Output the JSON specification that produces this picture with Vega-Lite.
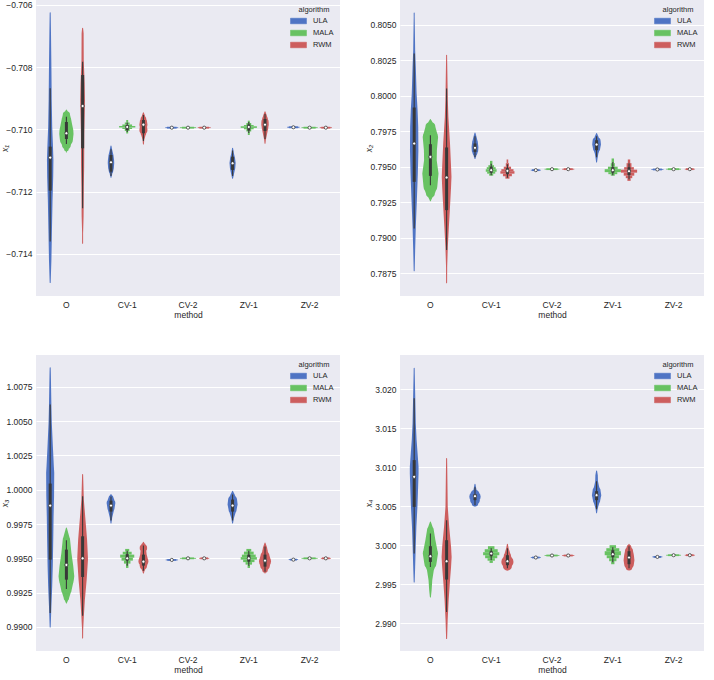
{
"$schema": "https://vega.github.io/schema/vega-lite/v6.json",
"padding": {"left": 0, "top": 0, "right": 0, "bottom": 0},
"background": "white",
"datasets": {
"trails": [
{"p":1,"m":"O","a":"ULA","v":-0.706249,"w":0},{"p":1,"m":"O","a":"ULA","v":-0.706913,"w":0.10},{"p":1,"m":"O","a":"ULA","v":-0.707983,"w":0.15},{"p":1,"m":"O","a":"ULA","v":-0.709053,"w":0.19},{"p":1,"m":"O","a":"ULA","v":-0.709909,"w":0.25},{"p":1,"m":"O","a":"ULA","v":-0.710444,"w":0.33},{"p":1,"m":"O","a":"ULA","v":-0.710979,"w":0.40},{"p":1,"m":"O","a":"ULA","v":-0.711514,"w":0.375},{"p":1,"m":"O","a":"ULA","v":-0.712263,"w":0.29},{"p":1,"m":"O","a":"ULA","v":-0.713333,"w":0.21},{"p":1,"m":"O","a":"ULA","v":-0.714190,"w":0.15},{"p":1,"m":"O","a":"ULA","v":-0.714917,"w":0},
{"p":1,"m":"O","a":"MALA","v":-0.709374,"w":0},{"p":1,"m":"O","a":"MALA","v":-0.709535,"w":0.45},{"p":1,"m":"O","a":"MALA","v":-0.709695,"w":0.6},{"p":1,"m":"O","a":"MALA","v":-0.709856,"w":0.72},{"p":1,"m":"O","a":"MALA","v":-0.710016,"w":0.85},{"p":1,"m":"O","a":"MALA","v":-0.710144,"w":0.88},{"p":1,"m":"O","a":"MALA","v":-0.710337,"w":0.8},{"p":1,"m":"O","a":"MALA","v":-0.710498,"w":0.55},{"p":1,"m":"O","a":"MALA","v":-0.710626,"w":0.3},{"p":1,"m":"O","a":"MALA","v":-0.710722,"w":0},
{"p":1,"m":"O","a":"RWM","v":-0.706751,"w":0},{"p":1,"m":"O","a":"RWM","v":-0.706912,"w":0.125},{"p":1,"m":"O","a":"RWM","v":-0.707769,"w":0.14},{"p":1,"m":"O","a":"RWM","v":-0.708517,"w":0.25},{"p":1,"m":"O","a":"RWM","v":-0.709053,"w":0.29},{"p":1,"m":"O","a":"RWM","v":-0.709374,"w":0.27},{"p":1,"m":"O","a":"RWM","v":-0.710122,"w":0.21},{"p":1,"m":"O","a":"RWM","v":-0.711194,"w":0.19},{"p":1,"m":"O","a":"RWM","v":-0.711836,"w":0.15},{"p":1,"m":"O","a":"RWM","v":-0.712799,"w":0.12},{"p":1,"m":"O","a":"RWM","v":-0.713332,"w":0.06},{"p":1,"m":"O","a":"RWM","v":-0.713653,"w":0},
{"p":1,"m":"CV-1","a":"ULA","v":-0.710530,"w":0},{"p":1,"m":"CV-1","a":"ULA","v":-0.710658,"w":0.15},{"p":1,"m":"CV-1","a":"ULA","v":-0.710819,"w":0.3},{"p":1,"m":"CV-1","a":"ULA","v":-0.710979,"w":0.38},{"p":1,"m":"CV-1","a":"ULA","v":-0.711075,"w":0.4},{"p":1,"m":"CV-1","a":"ULA","v":-0.711236,"w":0.35},{"p":1,"m":"CV-1","a":"ULA","v":-0.711364,"w":0.25},{"p":1,"m":"CV-1","a":"ULA","v":-0.711461,"w":0.12},{"p":1,"m":"CV-1","a":"ULA","v":-0.711535,"w":0},
{"p":1,"m":"CV-1","a":"RWM","v":-0.709461,"w":0},{"p":1,"m":"CV-1","a":"RWM","v":-0.709567,"w":0.2},{"p":1,"m":"CV-1","a":"RWM","v":-0.709663,"w":0.35},{"p":1,"m":"CV-1","a":"RWM","v":-0.709759,"w":0.45},{"p":1,"m":"CV-1","a":"RWM","v":-0.709846,"w":0.5},{"p":1,"m":"CV-1","a":"RWM","v":-0.709920,"w":0.45},{"p":1,"m":"CV-1","a":"RWM","v":-0.710016,"w":0.5},{"p":1,"m":"CV-1","a":"RWM","v":-0.710112,"w":0.35},{"p":1,"m":"CV-1","a":"RWM","v":-0.710241,"w":0.2},{"p":1,"m":"CV-1","a":"RWM","v":-0.710337,"w":0.1},{"p":1,"m":"CV-1","a":"RWM","v":-0.710465,"w":0},
{"p":1,"m":"ZV-1","a":"ULA","v":-0.710604,"w":0},{"p":1,"m":"ZV-1","a":"ULA","v":-0.710754,"w":0.15},{"p":1,"m":"ZV-1","a":"ULA","v":-0.710915,"w":0.3},{"p":1,"m":"ZV-1","a":"ULA","v":-0.711075,"w":0.38},{"p":1,"m":"ZV-1","a":"ULA","v":-0.711236,"w":0.33},{"p":1,"m":"ZV-1","a":"ULA","v":-0.711396,"w":0.2},{"p":1,"m":"ZV-1","a":"ULA","v":-0.711567,"w":0},
{"p":1,"m":"ZV-1","a":"RWM","v":-0.709429,"w":0},{"p":1,"m":"ZV-1","a":"RWM","v":-0.709535,"w":0.2},{"p":1,"m":"ZV-1","a":"RWM","v":-0.709663,"w":0.35},{"p":1,"m":"ZV-1","a":"RWM","v":-0.709759,"w":0.45},{"p":1,"m":"ZV-1","a":"RWM","v":-0.709846,"w":0.46},{"p":1,"m":"ZV-1","a":"RWM","v":-0.709952,"w":0.4},{"p":1,"m":"ZV-1","a":"RWM","v":-0.710080,"w":0.3},{"p":1,"m":"ZV-1","a":"RWM","v":-0.710209,"w":0.2},{"p":1,"m":"ZV-1","a":"RWM","v":-0.710337,"w":0.1},{"p":1,"m":"ZV-1","a":"RWM","v":-0.710443,"w":0},

{"p":2,"m":"O","a":"ULA","v":0.805845,"w":0},{"p":2,"m":"O","a":"ULA","v":0.805563,"w":0.06},{"p":2,"m":"O","a":"ULA","v":0.803218,"w":0.12},{"p":2,"m":"O","a":"ULA","v":0.802042,"w":0.2},{"p":2,"m":"O","a":"ULA","v":0.800169,"w":0.3},{"p":2,"m":"O","a":"ULA","v":0.798993,"w":0.42},{"p":2,"m":"O","a":"ULA","v":0.797817,"w":0.5},{"p":2,"m":"O","a":"ULA","v":0.796176,"w":0.52},{"p":2,"m":"O","a":"ULA","v":0.794535,"w":0.45},{"p":2,"m":"O","a":"ULA","v":0.792655,"w":0.33},{"p":2,"m":"O","a":"ULA","v":0.790775,"w":0.2},{"p":2,"m":"O","a":"ULA","v":0.789134,"w":0.12},{"p":2,"m":"O","a":"ULA","v":0.787676,"w":0},
{"p":2,"m":"O","a":"MALA","v":0.798338,"w":0},{"p":2,"m":"O","a":"MALA","v":0.797817,"w":0.62},{"p":2,"m":"O","a":"MALA","v":0.797113,"w":0.95},{"p":2,"m":"O","a":"MALA","v":0.796176,"w":0.8},{"p":2,"m":"O","a":"MALA","v":0.795472,"w":0.78},{"p":2,"m":"O","a":"MALA","v":0.794535,"w":1.0},{"p":2,"m":"O","a":"MALA","v":0.793592,"w":0.85},{"p":2,"m":"O","a":"MALA","v":0.793127,"w":0.55},{"p":2,"m":"O","a":"MALA","v":0.792796,"w":0.2},{"p":2,"m":"O","a":"MALA","v":0.792620,"w":0},
{"p":2,"m":"O","a":"RWM","v":0.802866,"w":0},{"p":2,"m":"O","a":"RWM","v":0.802746,"w":0.06},{"p":2,"m":"O","a":"RWM","v":0.799697,"w":0.15},{"p":2,"m":"O","a":"RWM","v":0.798521,"w":0.22},{"p":2,"m":"O","a":"RWM","v":0.796648,"w":0.42},{"p":2,"m":"O","a":"RWM","v":0.795,"w":0.55},{"p":2,"m":"O","a":"RWM","v":0.794296,"w":0.6},{"p":2,"m":"O","a":"RWM","v":0.793592,"w":0.55},{"p":2,"m":"O","a":"RWM","v":0.792183,"w":0.42},{"p":2,"m":"O","a":"RWM","v":0.790775,"w":0.28},{"p":2,"m":"O","a":"RWM","v":0.789366,"w":0.15},{"p":2,"m":"O","a":"RWM","v":0.787958,"w":0.07},{"p":2,"m":"O","a":"RWM","v":0.786831,"w":0},
{"p":2,"m":"CV-1","a":"ULA","v":0.797394,"w":0},{"p":2,"m":"CV-1","a":"ULA","v":0.797091,"w":0.2},{"p":2,"m":"CV-1","a":"ULA","v":0.796739,"w":0.35},{"p":2,"m":"CV-1","a":"ULA","v":0.796408,"w":0.42},{"p":2,"m":"CV-1","a":"ULA","v":0.796176,"w":0.4},{"p":2,"m":"CV-1","a":"ULA","v":0.795965,"w":0.3},{"p":2,"m":"CV-1","a":"ULA","v":0.795753,"w":0.15},{"p":2,"m":"CV-1","a":"ULA","v":0.795592,"w":0},
{"p":2,"m":"ZV-1","a":"ULA","v":0.797352,"w":0},{"p":2,"m":"ZV-1","a":"ULA","v":0.797091,"w":0.25},{"p":2,"m":"ZV-1","a":"ULA","v":0.796810,"w":0.5},{"p":2,"m":"ZV-1","a":"ULA","v":0.796577,"w":0.54},{"p":2,"m":"ZV-1","a":"ULA","v":0.796317,"w":0.45},{"p":2,"m":"ZV-1","a":"ULA","v":0.795944,"w":0.22},{"p":2,"m":"ZV-1","a":"ULA","v":0.795613,"w":0.12},{"p":2,"m":"ZV-1","a":"ULA","v":0.795352,"w":0},

{"p":3,"m":"O","a":"ULA","v":1.008878,"w":0},{"p":3,"m":"O","a":"ULA","v":1.008514,"w":0.08},{"p":3,"m":"O","a":"ULA","v":1.006079,"w":0.15},{"p":3,"m":"O","a":"ULA","v":1.004869,"w":0.2},{"p":3,"m":"O","a":"ULA","v":1.003164,"w":0.33},{"p":3,"m":"O","a":"ULA","v":1.001706,"w":0.45},{"p":3,"m":"O","a":"ULA","v":1.001225,"w":0.5},{"p":3,"m":"O","a":"ULA","v":0.999519,"w":0.48},{"p":3,"m":"O","a":"ULA","v":0.998061,"w":0.42},{"p":3,"m":"O","a":"ULA","v":0.996363,"w":0.38},{"p":3,"m":"O","a":"ULA","v":0.994417,"w":0.32},{"p":3,"m":"O","a":"ULA","v":0.992959,"w":0.25},{"p":3,"m":"O","a":"ULA","v":0.991501,"w":0.15},{"p":3,"m":"O","a":"ULA","v":0.990000,"w":0},
{"p":3,"m":"O","a":"MALA","v":0.997216,"w":0},{"p":3,"m":"O","a":"MALA","v":0.996363,"w":0.45},{"p":3,"m":"O","a":"MALA","v":0.995394,"w":0.62},{"p":3,"m":"O","a":"MALA","v":0.994417,"w":0.85},{"p":3,"m":"O","a":"MALA","v":0.993688,"w":0.97},{"p":3,"m":"O","a":"MALA","v":0.993447,"w":0.92},{"p":3,"m":"O","a":"MALA","v":0.992719,"w":0.65},{"p":3,"m":"O","a":"MALA","v":0.992114,"w":0.33},{"p":3,"m":"O","a":"MALA","v":0.991749,"w":0},
{"p":3,"m":"O","a":"RWM","v":1.001101,"w":0},{"p":3,"m":"O","a":"RWM","v":1.000736,"w":0.08},{"p":3,"m":"O","a":"RWM","v":0.999279,"w":0.15},{"p":3,"m":"O","a":"RWM","v":0.997821,"w":0.35},{"p":3,"m":"O","a":"RWM","v":0.996363,"w":0.55},{"p":3,"m":"O","a":"RWM","v":0.995146,"w":0.65},{"p":3,"m":"O","a":"RWM","v":0.994905,"w":0.66},{"p":3,"m":"O","a":"RWM","v":0.993447,"w":0.5},{"p":3,"m":"O","a":"RWM","v":0.991990,"w":0.28},{"p":3,"m":"O","a":"RWM","v":0.990772,"w":0.15},{"p":3,"m":"O","a":"RWM","v":0.989803,"w":0.07},{"p":3,"m":"O","a":"RWM","v":0.989198,"w":0},
{"p":3,"m":"CV-1","a":"ULA","v":0.999643,"w":0},{"p":3,"m":"CV-1","a":"ULA","v":0.999424,"w":0.3},{"p":3,"m":"CV-1","a":"ULA","v":0.999038,"w":0.54},{"p":3,"m":"CV-1","a":"ULA","v":0.998696,"w":0.45},{"p":3,"m":"CV-1","a":"ULA","v":0.998331,"w":0.3},{"p":3,"m":"CV-1","a":"ULA","v":0.997967,"w":0.15},{"p":3,"m":"CV-1","a":"ULA","v":0.997580,"w":0},
{"p":3,"m":"CV-1","a":"RWM","v":0.996166,"w":0},{"p":3,"m":"CV-1","a":"RWM","v":0.995926,"w":0.3},{"p":3,"m":"CV-1","a":"RWM","v":0.995758,"w":0.46},{"p":3,"m":"CV-1","a":"RWM","v":0.995561,"w":0.35},{"p":3,"m":"CV-1","a":"RWM","v":0.995270,"w":0.4},{"p":3,"m":"CV-1","a":"RWM","v":0.994781,"w":0.62},{"p":3,"m":"CV-1","a":"RWM","v":0.994468,"w":0.45},{"p":3,"m":"CV-1","a":"RWM","v":0.994176,"w":0.2},{"p":3,"m":"CV-1","a":"RWM","v":0.993936,"w":0},
{"p":3,"m":"ZV-1","a":"ULA","v":0.999884,"w":0},{"p":3,"m":"ZV-1","a":"ULA","v":0.999570,"w":0.3},{"p":3,"m":"ZV-1","a":"ULA","v":0.999279,"w":0.55},{"p":3,"m":"ZV-1","a":"ULA","v":0.998914,"w":0.62},{"p":3,"m":"ZV-1","a":"ULA","v":0.998550,"w":0.5},{"p":3,"m":"ZV-1","a":"ULA","v":0.998185,"w":0.3},{"p":3,"m":"ZV-1","a":"ULA","v":0.997894,"w":0.15},{"p":3,"m":"ZV-1","a":"ULA","v":0.997580,"w":0},
{"p":3,"m":"ZV-1","a":"RWM","v":0.996123,"w":0},{"p":3,"m":"ZV-1","a":"RWM","v":0.995780,"w":0.25},{"p":3,"m":"ZV-1","a":"RWM","v":0.995488,"w":0.35},{"p":3,"m":"ZV-1","a":"RWM","v":0.995197,"w":0.55},{"p":3,"m":"ZV-1","a":"RWM","v":0.994781,"w":0.75},{"p":3,"m":"ZV-1","a":"RWM","v":0.994468,"w":0.6},{"p":3,"m":"ZV-1","a":"RWM","v":0.994176,"w":0.35},{"p":3,"m":"ZV-1","a":"RWM","v":0.993936,"w":0},

{"p":4,"m":"O","a":"ULA","v":3.022655,"w":0},{"p":4,"m":"O","a":"ULA","v":3.022014,"w":0.07},{"p":4,"m":"O","a":"ULA","v":3.015603,"w":0.2},{"p":4,"m":"O","a":"ULA","v":3.013462,"w":0.3},{"p":4,"m":"O","a":"ULA","v":3.011757,"w":0.42},{"p":4,"m":"O","a":"ULA","v":3.010039,"w":0.54},{"p":4,"m":"O","a":"ULA","v":3.009193,"w":0.54},{"p":4,"m":"O","a":"ULA","v":3.006628,"w":0.46},{"p":4,"m":"O","a":"ULA","v":3.004910,"w":0.4},{"p":4,"m":"O","a":"ULA","v":3.002346,"w":0.27},{"p":4,"m":"O","a":"ULA","v":2.999782,"w":0.19},{"p":4,"m":"O","a":"ULA","v":2.997218,"w":0.12},{"p":4,"m":"O","a":"ULA","v":2.995295,"w":0},
{"p":4,"m":"O","a":"MALA","v":3.002987,"w":0},{"p":4,"m":"O","a":"MALA","v":3.001923,"w":0.42},{"p":4,"m":"O","a":"MALA","v":3.000641,"w":0.62},{"p":4,"m":"O","a":"MALA","v":2.998936,"w":0.94},{"p":4,"m":"O","a":"MALA","v":2.997654,"w":0.75},{"p":4,"m":"O","a":"MALA","v":2.996795,"w":0.42},{"p":4,"m":"O","a":"MALA","v":2.995513,"w":0.23},{"p":4,"m":"O","a":"MALA","v":2.994231,"w":0.15},{"p":4,"m":"O","a":"MALA","v":2.993372,"w":0},
{"p":4,"m":"O","a":"RWM","v":3.011116,"w":0},{"p":4,"m":"O","a":"RWM","v":3.010475,"w":0.07},{"p":4,"m":"O","a":"RWM","v":3.004910,"w":0.14},{"p":4,"m":"O","a":"RWM","v":3.002346,"w":0.32},{"p":4,"m":"O","a":"RWM","v":2.999782,"w":0.55},{"p":4,"m":"O","a":"RWM","v":2.998500,"w":0.62},{"p":4,"m":"O","a":"RWM","v":2.997218,"w":0.55},{"p":4,"m":"O","a":"RWM","v":2.995513,"w":0.42},{"p":4,"m":"O","a":"RWM","v":2.992948,"w":0.25},{"p":4,"m":"O","a":"RWM","v":2.990384,"w":0.13},{"p":4,"m":"O","a":"RWM","v":2.988038,"w":0},
{"p":4,"m":"CV-1","a":"ULA","v":3.007821,"w":0},{"p":4,"m":"CV-1","a":"ULA","v":3.007308,"w":0.15},{"p":4,"m":"CV-1","a":"ULA","v":3.006795,"w":0.25},{"p":4,"m":"CV-1","a":"ULA","v":3.006539,"w":0.55},{"p":4,"m":"CV-1","a":"ULA","v":3.006193,"w":0.7},{"p":4,"m":"CV-1","a":"ULA","v":3.005769,"w":0.6},{"p":4,"m":"CV-1","a":"ULA","v":3.005385,"w":0.4},{"p":4,"m":"CV-1","a":"ULA","v":3.005000,"w":0},
{"p":4,"m":"CV-1","a":"RWM","v":3.000128,"w":0},{"p":4,"m":"CV-1","a":"RWM","v":2.999615,"w":0.15},{"p":4,"m":"CV-1","a":"RWM","v":2.999103,"w":0.3},{"p":4,"m":"CV-1","a":"RWM","v":2.998590,"w":0.45},{"p":4,"m":"CV-1","a":"RWM","v":2.997859,"w":0.75},{"p":4,"m":"CV-1","a":"RWM","v":2.997308,"w":0.55},{"p":4,"m":"CV-1","a":"RWM","v":2.996885,"w":0},
{"p":4,"m":"ZV-1","a":"ULA","v":3.009488,"w":0},{"p":4,"m":"ZV-1","a":"ULA","v":3.008975,"w":0.15},{"p":4,"m":"ZV-1","a":"ULA","v":3.008205,"w":0.17},{"p":4,"m":"ZV-1","a":"ULA","v":3.007564,"w":0.3},{"p":4,"m":"ZV-1","a":"ULA","v":3.006923,"w":0.5},{"p":4,"m":"ZV-1","a":"ULA","v":3.006410,"w":0.58},{"p":4,"m":"ZV-1","a":"ULA","v":3.005769,"w":0.45},{"p":4,"m":"ZV-1","a":"ULA","v":3.005128,"w":0.25},{"p":4,"m":"ZV-1","a":"ULA","v":3.004616,"w":0.12},{"p":4,"m":"ZV-1","a":"ULA","v":3.004141,"w":0},
{"p":4,"m":"ZV-1","a":"RWM","v":3.000128,"w":0},{"p":4,"m":"ZV-1","a":"RWM","v":2.999744,"w":0.3},{"p":4,"m":"ZV-1","a":"RWM","v":2.999231,"w":0.5},{"p":4,"m":"ZV-1","a":"RWM","v":2.998718,"w":0.6},{"p":4,"m":"ZV-1","a":"RWM","v":2.998077,"w":0.67},{"p":4,"m":"ZV-1","a":"RWM","v":2.997564,"w":0.6},{"p":4,"m":"ZV-1","a":"RWM","v":2.997179,"w":0.4},{"p":4,"m":"ZV-1","a":"RWM","v":2.996885,"w":0}
],
"slices": [
{"p":1,"m":"CV-1","a":"MALA","v":-0.709775,"v2":-0.709695,"w":0.12},{"p":1,"m":"CV-1","a":"MALA","v":-0.709839,"v2":-0.709775,"w":0.3},{"p":1,"m":"CV-1","a":"MALA","v":-0.709888,"v2":-0.709839,"w":0.6},{"p":1,"m":"CV-1","a":"MALA","v":-0.709939,"v2":-0.709888,"w":1.0},{"p":1,"m":"CV-1","a":"MALA","v":-0.709984,"v2":-0.709939,"w":0.6},{"p":1,"m":"CV-1","a":"MALA","v":-0.710048,"v2":-0.709984,"w":0.3},{"p":1,"m":"CV-1","a":"MALA","v":-0.710128,"v2":-0.710048,"w":0.12},
{"p":1,"m":"ZV-1","a":"MALA","v":-0.709791,"v2":-0.709717,"w":0.12},{"p":1,"m":"ZV-1","a":"MALA","v":-0.709856,"v2":-0.709791,"w":0.3},{"p":1,"m":"ZV-1","a":"MALA","v":-0.709897,"v2":-0.709856,"w":0.6},{"p":1,"m":"ZV-1","a":"MALA","v":-0.709949,"v2":-0.709897,"w":1.0},{"p":1,"m":"ZV-1","a":"MALA","v":-0.709994,"v2":-0.709949,"w":0.6},{"p":1,"m":"ZV-1","a":"MALA","v":-0.710064,"v2":-0.709994,"w":0.3},{"p":1,"m":"ZV-1","a":"MALA","v":-0.710177,"v2":-0.710064,"w":0.12},
{"p":1,"m":"CV-2","a":"ULA","v":-0.709971,"v2":-0.709913,"w":0.6},{"p":1,"m":"CV-2","a":"ULA","v":-0.709955,"v2":-0.709929,"w":0.8},
{"p":1,"m":"CV-2","a":"MALA","v":-0.709971,"v2":-0.709913,"w":0.75},{"p":1,"m":"CV-2","a":"MALA","v":-0.709955,"v2":-0.709929,"w":1.0},
{"p":1,"m":"CV-2","a":"RWM","v":-0.709971,"v2":-0.709913,"w":0.6},{"p":1,"m":"CV-2","a":"RWM","v":-0.709955,"v2":-0.709929,"w":0.8},
{"p":1,"m":"ZV-2","a":"ULA","v":-0.709958,"v2":-0.709900,"w":0.56},{"p":1,"m":"ZV-2","a":"ULA","v":-0.709942,"v2":-0.709916,"w":0.75},
{"p":1,"m":"ZV-2","a":"MALA","v":-0.709971,"v2":-0.709913,"w":0.75},{"p":1,"m":"ZV-2","a":"MALA","v":-0.709955,"v2":-0.709929,"w":1.0},
{"p":1,"m":"ZV-2","a":"RWM","v":-0.709971,"v2":-0.709913,"w":0.56},{"p":1,"m":"ZV-2","a":"RWM","v":-0.709955,"v2":-0.709929,"w":0.75},

{"p":2,"m":"CV-1","a":"MALA","v":0.795120,"v2":0.795423,"w":0.15},{"p":2,"m":"CV-1","a":"MALA","v":0.794979,"v2":0.795120,"w":0.35},{"p":2,"m":"CV-1","a":"MALA","v":0.794838,"v2":0.794979,"w":0.55},{"p":2,"m":"CV-1","a":"MALA","v":0.794662,"v2":0.794838,"w":0.67},{"p":2,"m":"CV-1","a":"MALA","v":0.794521,"v2":0.794662,"w":0.5},{"p":2,"m":"CV-1","a":"MALA","v":0.794380,"v2":0.794521,"w":0.25},
{"p":2,"m":"CV-1","a":"RWM","v":0.795261,"v2":0.795521,"w":0.1},{"p":2,"m":"CV-1","a":"RWM","v":0.795014,"v2":0.795261,"w":0.2},{"p":2,"m":"CV-1","a":"RWM","v":0.794838,"v2":0.795014,"w":0.45},{"p":2,"m":"CV-1","a":"RWM","v":0.794697,"v2":0.794838,"w":0.75},{"p":2,"m":"CV-1","a":"RWM","v":0.794521,"v2":0.794697,"w":0.87},{"p":2,"m":"CV-1","a":"RWM","v":0.794345,"v2":0.794521,"w":0.55},{"p":2,"m":"CV-1","a":"RWM","v":0.794169,"v2":0.794345,"w":0.25},
{"p":2,"m":"ZV-1","a":"MALA","v":0.795261,"v2":0.795592,"w":0.15},{"p":2,"m":"ZV-1","a":"MALA","v":0.795014,"v2":0.795261,"w":0.25},{"p":2,"m":"ZV-1","a":"MALA","v":0.794838,"v2":0.795014,"w":0.6},{"p":2,"m":"ZV-1","a":"MALA","v":0.794627,"v2":0.794838,"w":1.0},{"p":2,"m":"ZV-1","a":"MALA","v":0.794486,"v2":0.794627,"w":0.55},{"p":2,"m":"ZV-1","a":"MALA","v":0.794380,"v2":0.794486,"w":0.25},
{"p":2,"m":"ZV-1","a":"RWM","v":0.795261,"v2":0.795521,"w":0.15},{"p":2,"m":"ZV-1","a":"RWM","v":0.794979,"v2":0.795261,"w":0.3},{"p":2,"m":"ZV-1","a":"RWM","v":0.794803,"v2":0.794979,"w":0.6},{"p":2,"m":"ZV-1","a":"RWM","v":0.794592,"v2":0.794803,"w":1.0},{"p":2,"m":"ZV-1","a":"RWM","v":0.794380,"v2":0.794592,"w":0.65},{"p":2,"m":"ZV-1","a":"RWM","v":0.794204,"v2":0.794380,"w":0.4},{"p":2,"m":"ZV-1","a":"RWM","v":0.794014,"v2":0.794204,"w":0.2},
{"p":2,"m":"CV-2","a":"ULA","v":0.794705,"v2":0.794831,"w":0.47},{"p":2,"m":"CV-2","a":"ULA","v":0.794740,"v2":0.794796,"w":0.62},
{"p":2,"m":"CV-2","a":"MALA","v":0.794775,"v2":0.794901,"w":0.7},{"p":2,"m":"CV-2","a":"MALA","v":0.794810,"v2":0.794866,"w":0.92},
{"p":2,"m":"CV-2","a":"RWM","v":0.794775,"v2":0.794901,"w":0.56},{"p":2,"m":"CV-2","a":"RWM","v":0.794810,"v2":0.794866,"w":0.75},
{"p":2,"m":"ZV-2","a":"ULA","v":0.794754,"v2":0.794880,"w":0.56},{"p":2,"m":"ZV-2","a":"ULA","v":0.794789,"v2":0.794845,"w":0.75},
{"p":2,"m":"ZV-2","a":"MALA","v":0.794775,"v2":0.794901,"w":0.7},{"p":2,"m":"ZV-2","a":"MALA","v":0.794810,"v2":0.794866,"w":0.92},
{"p":2,"m":"ZV-2","a":"RWM","v":0.794775,"v2":0.794901,"w":0.47},{"p":2,"m":"ZV-2","a":"RWM","v":0.794810,"v2":0.794866,"w":0.62},

{"p":3,"m":"CV-1","a":"MALA","v":0.995488,"v2":0.995685,"w":0.25},{"p":3,"m":"CV-1","a":"MALA","v":0.995270,"v2":0.995488,"w":0.55},{"p":3,"m":"CV-1","a":"MALA","v":0.995051,"v2":0.995270,"w":0.87},{"p":3,"m":"CV-1","a":"MALA","v":0.994832,"v2":0.995051,"w":0.7},{"p":3,"m":"CV-1","a":"MALA","v":0.994614,"v2":0.994832,"w":0.4},{"p":3,"m":"CV-1","a":"MALA","v":0.994300,"v2":0.994614,"w":0.15},
{"p":3,"m":"ZV-1","a":"MALA","v":0.995488,"v2":0.995685,"w":0.3},{"p":3,"m":"ZV-1","a":"MALA","v":0.995270,"v2":0.995488,"w":0.6},{"p":3,"m":"ZV-1","a":"MALA","v":0.995087,"v2":0.995270,"w":0.85},{"p":3,"m":"ZV-1","a":"MALA","v":0.994905,"v2":0.995087,"w":1.0},{"p":3,"m":"ZV-1","a":"MALA","v":0.994723,"v2":0.994905,"w":0.7},{"p":3,"m":"ZV-1","a":"MALA","v":0.994541,"v2":0.994723,"w":0.4},{"p":3,"m":"ZV-1","a":"MALA","v":0.994300,"v2":0.994541,"w":0.15},
{"p":3,"m":"CV-2","a":"ULA","v":0.994817,"v2":0.994949,"w":0.56},{"p":3,"m":"CV-2","a":"ULA","v":0.994854,"v2":0.994912,"w":0.75},
{"p":3,"m":"CV-2","a":"MALA","v":0.994934,"v2":0.995066,"w":0.75},{"p":3,"m":"CV-2","a":"MALA","v":0.994971,"v2":0.995029,"w":1.0},
{"p":3,"m":"CV-2","a":"RWM","v":0.994934,"v2":0.995066,"w":0.47},{"p":3,"m":"CV-2","a":"RWM","v":0.994971,"v2":0.995029,"w":0.62},
{"p":3,"m":"ZV-2","a":"ULA","v":0.994839,"v2":0.994971,"w":0.44},{"p":3,"m":"ZV-2","a":"ULA","v":0.994876,"v2":0.994934,"w":0.58},
{"p":3,"m":"ZV-2","a":"MALA","v":0.994934,"v2":0.995066,"w":0.75},{"p":3,"m":"ZV-2","a":"MALA","v":0.994971,"v2":0.995029,"w":1.0},
{"p":3,"m":"ZV-2","a":"RWM","v":0.994934,"v2":0.995066,"w":0.47},{"p":3,"m":"ZV-2","a":"RWM","v":0.994971,"v2":0.995029,"w":0.62},

{"p":4,"m":"CV-1","a":"MALA","v":2.999487,"v2":2.999872,"w":0.4},{"p":4,"m":"CV-1","a":"MALA","v":2.999103,"v2":2.999487,"w":0.8},{"p":4,"m":"CV-1","a":"MALA","v":2.998718,"v2":2.999103,"w":1.0},{"p":4,"m":"CV-1","a":"MALA","v":2.998333,"v2":2.998718,"w":0.75},{"p":4,"m":"CV-1","a":"MALA","v":2.998013,"v2":2.998333,"w":0.45},{"p":4,"m":"CV-1","a":"MALA","v":2.997731,"v2":2.998013,"w":0.2},
{"p":4,"m":"ZV-1","a":"MALA","v":2.999615,"v2":3.000000,"w":0.4},{"p":4,"m":"ZV-1","a":"MALA","v":2.999231,"v2":2.999615,"w":0.8},{"p":4,"m":"ZV-1","a":"MALA","v":2.998718,"v2":2.999231,"w":1.0},{"p":4,"m":"ZV-1","a":"MALA","v":2.998333,"v2":2.998718,"w":0.75},{"p":4,"m":"ZV-1","a":"MALA","v":2.997949,"v2":2.998333,"w":0.45},{"p":4,"m":"ZV-1","a":"MALA","v":2.997564,"v2":2.997949,"w":0.2},
{"p":4,"m":"CV-2","a":"ULA","v":2.998308,"v2":2.998538,"w":0.47},{"p":4,"m":"CV-2","a":"ULA","v":2.998372,"v2":2.998474,"w":0.62},
{"p":4,"m":"CV-2","a":"MALA","v":2.998564,"v2":2.998794,"w":0.7},{"p":4,"m":"CV-2","a":"MALA","v":2.998628,"v2":2.998730,"w":0.92},
{"p":4,"m":"CV-2","a":"RWM","v":2.998564,"v2":2.998794,"w":0.56},{"p":4,"m":"CV-2","a":"RWM","v":2.998628,"v2":2.998730,"w":0.75},
{"p":4,"m":"ZV-2","a":"ULA","v":2.998385,"v2":2.998615,"w":0.47},{"p":4,"m":"ZV-2","a":"ULA","v":2.998449,"v2":2.998551,"w":0.62},
{"p":4,"m":"ZV-2","a":"MALA","v":2.998603,"v2":2.998833,"w":0.7},{"p":4,"m":"ZV-2","a":"MALA","v":2.998667,"v2":2.998769,"w":0.92},
{"p":4,"m":"ZV-2","a":"RWM","v":2.998603,"v2":2.998833,"w":0.47},{"p":4,"m":"ZV-2","a":"RWM","v":2.998667,"v2":2.998769,"w":0.62}
],
"boxes": [
{"p":1,"m":"O","a":"ULA","k":"wh","v":-0.713601,"v2":-0.708678},{"p":1,"m":"O","a":"ULA","k":"iqr","v":-0.711964,"v2":-0.710551},
{"p":1,"m":"O","a":"MALA","k":"wh","v":-0.710465,"v2":-0.709589},{"p":1,"m":"O","a":"MALA","k":"iqr","v":-0.710305,"v2":-0.709759},
{"p":1,"m":"O","a":"RWM","k":"wh","v":-0.712530,"v2":-0.707823},{"p":1,"m":"O","a":"RWM","k":"iqr","v":-0.710604,"v2":-0.708250},
{"p":1,"m":"CV-1","a":"ULA","k":"wh","v":-0.711493,"v2":-0.710636},{"p":1,"m":"CV-1","a":"ULA","k":"iqr","v":-0.711355,"v2":-0.710819},
{"p":1,"m":"CV-1","a":"MALA","k":"wh","v":-0.710080,"v2":-0.709775},{"p":1,"m":"CV-1","a":"MALA","k":"iqr","v":-0.710016,"v2":-0.709856},
{"p":1,"m":"CV-1","a":"RWM","k":"wh","v":-0.710369,"v2":-0.709535},{"p":1,"m":"CV-1","a":"RWM","k":"iqr","v":-0.710122,"v2":-0.709695},
{"p":1,"m":"ZV-1","a":"ULA","k":"wh","v":-0.711493,"v2":-0.710674},{"p":1,"m":"ZV-1","a":"ULA","k":"iqr","v":-0.711300,"v2":-0.710873},
{"p":1,"m":"ZV-1","a":"MALA","k":"wh","v":-0.710112,"v2":-0.709759},{"p":1,"m":"ZV-1","a":"MALA","k":"iqr","v":-0.710032,"v2":-0.709839},
{"p":1,"m":"ZV-1","a":"RWM","k":"wh","v":-0.710305,"v2":-0.709502},{"p":1,"m":"ZV-1","a":"RWM","k":"iqr","v":-0.710048,"v2":-0.709663},
{"p":2,"m":"O","a":"ULA","k":"wh","v":0.790662,"v2":0.802986},{"p":2,"m":"O","a":"ULA","k":"iqr","v":0.793944,"v2":0.799183},
{"p":2,"m":"O","a":"MALA","k":"wh","v":0.793711,"v2":0.797232},{"p":2,"m":"O","a":"MALA","k":"iqr","v":0.794366,"v2":0.796599},
{"p":2,"m":"O","a":"RWM","k":"wh","v":0.789134,"v2":0.800521},{"p":2,"m":"O","a":"RWM","k":"iqr","v":0.791951,"v2":0.796366},
{"p":2,"m":"CV-1","a":"ULA","k":"wh","v":0.795683,"v2":0.797162},{"p":2,"m":"CV-1","a":"ULA","k":"iqr","v":0.796056,"v2":0.796648},
{"p":2,"m":"CV-1","a":"MALA","k":"wh","v":0.794416,"v2":0.795225},{"p":2,"m":"CV-1","a":"MALA","k":"iqr","v":0.794592,"v2":0.795014},
{"p":2,"m":"CV-1","a":"RWM","k":"wh","v":0.794239,"v2":0.795190},{"p":2,"m":"CV-1","a":"RWM","k":"iqr","v":0.794486,"v2":0.794908},
{"p":2,"m":"ZV-1","a":"ULA","k":"wh","v":0.795683,"v2":0.797162},{"p":2,"m":"ZV-1","a":"ULA","k":"iqr","v":0.796176,"v2":0.796880},
{"p":2,"m":"ZV-1","a":"MALA","k":"wh","v":0.794416,"v2":0.795331},{"p":2,"m":"ZV-1","a":"MALA","k":"iqr","v":0.794592,"v2":0.794979},
{"p":2,"m":"ZV-1","a":"RWM","k":"wh","v":0.794134,"v2":0.795261},{"p":2,"m":"ZV-1","a":"RWM","k":"iqr","v":0.794416,"v2":0.794979},
{"p":3,"m":"O","a":"ULA","k":"wh","v":0.991020,"v2":1.006203},{"p":3,"m":"O","a":"ULA","k":"iqr","v":0.994905,"v2":1.000445},
{"p":3,"m":"O","a":"MALA","k":"wh","v":0.992770,"v2":0.996312},{"p":3,"m":"O","a":"MALA","k":"iqr","v":0.993447,"v2":0.995634},
{"p":3,"m":"O","a":"RWM","k":"wh","v":0.990823,"v2":0.999519},{"p":3,"m":"O","a":"RWM","k":"iqr","v":0.993644,"v2":0.996604},
{"p":3,"m":"CV-1","a":"ULA","k":"wh","v":0.997748,"v2":0.999497},{"p":3,"m":"CV-1","a":"ULA","k":"iqr","v":0.998404,"v2":0.999206},
{"p":3,"m":"CV-1","a":"MALA","k":"wh","v":0.994468,"v2":0.995561},{"p":3,"m":"CV-1","a":"MALA","k":"iqr","v":0.994832,"v2":0.995306},
{"p":3,"m":"CV-1","a":"RWM","k":"wh","v":0.994103,"v2":0.995926},{"p":3,"m":"CV-1","a":"RWM","k":"iqr","v":0.994468,"v2":0.995270},
{"p":3,"m":"ZV-1","a":"ULA","k":"wh","v":0.997748,"v2":0.999643},{"p":3,"m":"ZV-1","a":"ULA","k":"iqr","v":0.998404,"v2":0.999279},
{"p":3,"m":"ZV-1","a":"MALA","k":"wh","v":0.994468,"v2":0.995561},{"p":3,"m":"ZV-1","a":"MALA","k":"iqr","v":0.994759,"v2":0.995270},
{"p":3,"m":"ZV-1","a":"RWM","k":"wh","v":0.994031,"v2":0.995853},{"p":3,"m":"ZV-1","a":"RWM","k":"iqr","v":0.994395,"v2":0.995270},
{"p":4,"m":"O","a":"ULA","k":"wh","v":2.998936,"v2":3.018808},{"p":4,"m":"O","a":"ULA","k":"iqr","v":3.004910,"v2":3.010898},
{"p":4,"m":"O","a":"MALA","k":"wh","v":2.997218,"v2":3.001500},{"p":4,"m":"O","a":"MALA","k":"iqr","v":2.997859,"v2":2.999872},
{"p":4,"m":"O","a":"RWM","k":"wh","v":2.991448,"v2":3.003205},{"p":4,"m":"O","a":"RWM","k":"iqr","v":2.995602,"v2":3.000641},
{"p":4,"m":"CV-1","a":"ULA","k":"wh","v":3.005128,"v2":3.007436},{"p":4,"m":"CV-1","a":"ULA","k":"iqr","v":3.005769,"v2":3.006539},
{"p":4,"m":"CV-1","a":"MALA","k":"wh","v":2.998077,"v2":2.999615},{"p":4,"m":"CV-1","a":"MALA","k":"iqr","v":2.998590,"v2":2.999231},
{"p":4,"m":"CV-1","a":"RWM","k":"wh","v":2.997051,"v2":2.999615},{"p":4,"m":"CV-1","a":"RWM","k":"iqr","v":2.997436,"v2":2.998718},
{"p":4,"m":"ZV-1","a":"ULA","k":"wh","v":3.004616,"v2":3.008205},{"p":4,"m":"ZV-1","a":"ULA","k":"iqr","v":3.005769,"v2":3.006923},
{"p":4,"m":"ZV-1","a":"MALA","k":"wh","v":2.997820,"v2":2.999744},{"p":4,"m":"ZV-1","a":"MALA","k":"iqr","v":2.998461,"v2":2.999359},
{"p":4,"m":"ZV-1","a":"RWM","k":"wh","v":2.997051,"v2":2.999872},{"p":4,"m":"ZV-1","a":"RWM","k":"iqr","v":2.997564,"v2":2.999231}
],
"medians": [
{"p":1,"m":"O","a":"ULA","v":-0.710904},{"p":1,"m":"O","a":"MALA","v":-0.710122},{"p":1,"m":"O","a":"RWM","v":-0.709246},
{"p":1,"m":"CV-1","a":"ULA","v":-0.711053},{"p":1,"m":"CV-1","a":"MALA","v":-0.709920},{"p":1,"m":"CV-1","a":"RWM","v":-0.709846},
{"p":1,"m":"CV-2","a":"ULA","v":-0.709942},{"p":1,"m":"CV-2","a":"MALA","v":-0.709942},{"p":1,"m":"CV-2","a":"RWM","v":-0.709942},
{"p":1,"m":"ZV-1","a":"ULA","v":-0.711085},{"p":1,"m":"ZV-1","a":"MALA","v":-0.709920},{"p":1,"m":"ZV-1","a":"RWM","v":-0.709846},
{"p":1,"m":"ZV-2","a":"ULA","v":-0.709929},{"p":1,"m":"ZV-2","a":"MALA","v":-0.709942},{"p":1,"m":"ZV-2","a":"RWM","v":-0.709942},
{"p":2,"m":"O","a":"ULA","v":0.796648},{"p":2,"m":"O","a":"MALA","v":0.795704},{"p":2,"m":"O","a":"RWM","v":0.794254},
{"p":2,"m":"CV-1","a":"ULA","v":0.796338},{"p":2,"m":"CV-1","a":"MALA","v":0.794768},{"p":2,"m":"CV-1","a":"RWM","v":0.794718},
{"p":2,"m":"CV-2","a":"ULA","v":0.794768},{"p":2,"m":"CV-2","a":"MALA","v":0.794838},{"p":2,"m":"CV-2","a":"RWM","v":0.794838},
{"p":2,"m":"ZV-1","a":"ULA","v":0.796577},{"p":2,"m":"ZV-1","a":"MALA","v":0.794768},{"p":2,"m":"ZV-1","a":"RWM","v":0.794697},
{"p":2,"m":"ZV-2","a":"ULA","v":0.794817},{"p":2,"m":"ZV-2","a":"MALA","v":0.794838},{"p":2,"m":"ZV-2","a":"RWM","v":0.794838},
{"p":3,"m":"O","a":"ULA","v":0.998841},{"p":3,"m":"O","a":"MALA","v":0.994519},{"p":3,"m":"O","a":"RWM","v":0.995000},
{"p":3,"m":"CV-1","a":"ULA","v":0.998841},{"p":3,"m":"CV-1","a":"MALA","v":0.995000},{"p":3,"m":"CV-1","a":"RWM","v":0.994759},
{"p":3,"m":"CV-2","a":"ULA","v":0.994883},{"p":3,"m":"CV-2","a":"MALA","v":0.995},{"p":3,"m":"CV-2","a":"RWM","v":0.995},
{"p":3,"m":"ZV-1","a":"ULA","v":0.998841},{"p":3,"m":"ZV-1","a":"MALA","v":0.995000},{"p":3,"m":"ZV-1","a":"RWM","v":0.994832},
{"p":3,"m":"ZV-2","a":"ULA","v":0.994905},{"p":3,"m":"ZV-2","a":"MALA","v":0.995},{"p":3,"m":"ZV-2","a":"RWM","v":0.995},
{"p":4,"m":"O","a":"ULA","v":3.008757},{"p":4,"m":"O","a":"MALA","v":2.998590},{"p":4,"m":"O","a":"RWM","v":2.997949},
{"p":4,"m":"CV-1","a":"ULA","v":3.006282},{"p":4,"m":"CV-1","a":"MALA","v":2.998936},{"p":4,"m":"CV-1","a":"RWM","v":2.997949},
{"p":4,"m":"CV-2","a":"ULA","v":2.998423},{"p":4,"m":"CV-2","a":"MALA","v":2.998679},{"p":4,"m":"CV-2","a":"RWM","v":2.998679},
{"p":4,"m":"ZV-1","a":"ULA","v":3.006410},{"p":4,"m":"ZV-1","a":"MALA","v":2.998846},{"p":4,"m":"ZV-1","a":"RWM","v":2.998423},
{"p":4,"m":"ZV-2","a":"ULA","v":2.998500},{"p":4,"m":"ZV-2","a":"MALA","v":2.998718},{"p":4,"m":"ZV-2","a":"RWM","v":2.998718}
]
},
"columns": 2,
"spacing": {"row": 59, "column": 60},
"bounds": "flush",
"resolve": {"scale": {"x": "independent", "y": "independent", "xOffset": "independent", "color": "independent", "size": "independent"}, "legend": {"color": "independent"}, "axis": {"x": "independent", "y": "independent"}},
"concat": [
{
"width": 304, "height": 296,
"encoding": {
"x": {"field": "m", "type": "nominal", "scale": {"domain": ["O","CV-1","CV-2","ZV-1","ZV-2"], "paddingInner": 0.2, "paddingOuter": 0.1}, "axis": {"title": "method"}},
"xOffset": {"field": "a", "type": "nominal", "scale": {"domain": ["ULA","MALA","RWM"], "paddingInner": 0, "paddingOuter": 0}},
"y": {"field": "v", "type": "quantitative", "scale": {"domain": [-0.71535, -0.70584], "nice": false, "zero": false}, "axis": {"title": "x₁", "values": [-0.714,-0.712,-0.710,-0.708,-0.706], "format": ".3f"}}
},
"layer": [
{"data": {"name": "slices"}, "transform": [{"filter": "datum.p == 1"}], "mark": {"type": "bar", "opacity": 1}, "encoding": {"y2": {"field": "v2"}, "size": {"field": "w", "type": "quantitative", "scale": {"domain": [0,1], "range": [0,16.2], "zero": true}, "legend": null}, "color": {"field": "a", "type": "nominal", "scale": {"domain": ["ULA","MALA","RWM"], "range": ["#4f74c4","#68c262","#cd5e5e"]}, "title": "algorithm"}}},
{"data": {"name": "trails"}, "transform": [{"filter": "datum.p == 1"}], "mark": {"type": "trail", "opacity": 1}, "encoding": {"size": {"field": "w", "type": "quantitative", "scale": {"domain": [0,1], "range": [0,16.2], "zero": true}, "legend": null}, "color": {"field": "a", "type": "nominal", "scale": {"domain": ["ULA","MALA","RWM"], "range": ["#4f74c4","#68c262","#cd5e5e"]}, "title": "algorithm"}, "detail": {"field": "m"}, "order": {"field": "v", "type": "quantitative"}}},
{"data": {"name": "boxes"}, "transform": [{"filter": "datum.p == 1 && datum.k == 'wh'"}], "mark": {"type": "rule", "color": "#383838", "strokeWidth": 1.1}, "encoding": {"y2": {"field": "v2"}}},
{"data": {"name": "boxes"}, "transform": [{"filter": "datum.p == 1 && datum.k == 'iqr'"}], "mark": {"type": "rule", "color": "#383838", "strokeWidth": 3}, "encoding": {"y2": {"field": "v2"}}},
{"data": {"name": "medians"}, "transform": [{"filter": "datum.p == 1"}], "mark": {"type": "point", "filled": true, "fill": "white", "stroke": "#383838", "strokeWidth": 0.8, "size": 10, "opacity": 1}}
]
},
{
"width": 304, "height": 296,
"encoding": {
"x": {"field": "m", "type": "nominal", "scale": {"domain": ["O","CV-1","CV-2","ZV-1","ZV-2"], "paddingInner": 0.2, "paddingOuter": 0.1}, "axis": {"title": "method"}},
"xOffset": {"field": "a", "type": "nominal", "scale": {"domain": ["ULA","MALA","RWM"], "paddingInner": 0, "paddingOuter": 0}},
"y": {"field": "v", "type": "quantitative", "scale": {"domain": [0.78590, 0.80676], "nice": false, "zero": false}, "axis": {"title": "x₂", "values": [0.7875,0.7900,0.7925,0.7950,0.7975,0.8000,0.8025,0.8050], "format": ".4f"}}
},
"layer": [
{"data": {"name": "slices"}, "transform": [{"filter": "datum.p == 2"}], "mark": {"type": "bar", "opacity": 1}, "encoding": {"y2": {"field": "v2"}, "size": {"field": "w", "type": "quantitative", "scale": {"domain": [0,1], "range": [0,16.2], "zero": true}, "legend": null}, "color": {"field": "a", "type": "nominal", "scale": {"domain": ["ULA","MALA","RWM"], "range": ["#4f74c4","#68c262","#cd5e5e"]}, "title": "algorithm"}}},
{"data": {"name": "trails"}, "transform": [{"filter": "datum.p == 2"}], "mark": {"type": "trail", "opacity": 1}, "encoding": {"size": {"field": "w", "type": "quantitative", "scale": {"domain": [0,1], "range": [0,16.2], "zero": true}, "legend": null}, "color": {"field": "a", "type": "nominal", "scale": {"domain": ["ULA","MALA","RWM"], "range": ["#4f74c4","#68c262","#cd5e5e"]}, "title": "algorithm"}, "detail": {"field": "m"}, "order": {"field": "v", "type": "quantitative"}}},
{"data": {"name": "boxes"}, "transform": [{"filter": "datum.p == 2 && datum.k == 'wh'"}], "mark": {"type": "rule", "color": "#383838", "strokeWidth": 1.1}, "encoding": {"y2": {"field": "v2"}}},
{"data": {"name": "boxes"}, "transform": [{"filter": "datum.p == 2 && datum.k == 'iqr'"}], "mark": {"type": "rule", "color": "#383838", "strokeWidth": 3}, "encoding": {"y2": {"field": "v2"}}},
{"data": {"name": "medians"}, "transform": [{"filter": "datum.p == 2"}], "mark": {"type": "point", "filled": true, "fill": "white", "stroke": "#383838", "strokeWidth": 0.8, "size": 10, "opacity": 1}}
]
},
{
"width": 304, "height": 296,
"encoding": {
"x": {"field": "m", "type": "nominal", "scale": {"domain": ["O","CV-1","CV-2","ZV-1","ZV-2"], "paddingInner": 0.2, "paddingOuter": 0.1}, "axis": {"title": "method"}},
"xOffset": {"field": "a", "type": "nominal", "scale": {"domain": ["ULA","MALA","RWM"], "paddingInner": 0, "paddingOuter": 0}},
"y": {"field": "v", "type": "quantitative", "scale": {"domain": [0.98825, 1.00981], "nice": false, "zero": false}, "axis": {"title": "x₃", "values": [0.9900,0.9925,0.9950,0.9975,1.0000,1.0025,1.0050,1.0075], "format": ".4f"}}
},
"layer": [
{"data": {"name": "slices"}, "transform": [{"filter": "datum.p == 3"}], "mark": {"type": "bar", "opacity": 1}, "encoding": {"y2": {"field": "v2"}, "size": {"field": "w", "type": "quantitative", "scale": {"domain": [0,1], "range": [0,16.2], "zero": true}, "legend": null}, "color": {"field": "a", "type": "nominal", "scale": {"domain": ["ULA","MALA","RWM"], "range": ["#4f74c4","#68c262","#cd5e5e"]}, "title": "algorithm"}}},
{"data": {"name": "trails"}, "transform": [{"filter": "datum.p == 3"}], "mark": {"type": "trail", "opacity": 1}, "encoding": {"size": {"field": "w", "type": "quantitative", "scale": {"domain": [0,1], "range": [0,16.2], "zero": true}, "legend": null}, "color": {"field": "a", "type": "nominal", "scale": {"domain": ["ULA","MALA","RWM"], "range": ["#4f74c4","#68c262","#cd5e5e"]}, "title": "algorithm"}, "detail": {"field": "m"}, "order": {"field": "v", "type": "quantitative"}}},
{"data": {"name": "boxes"}, "transform": [{"filter": "datum.p == 3 && datum.k == 'wh'"}], "mark": {"type": "rule", "color": "#383838", "strokeWidth": 1.1}, "encoding": {"y2": {"field": "v2"}}},
{"data": {"name": "boxes"}, "transform": [{"filter": "datum.p == 3 && datum.k == 'iqr'"}], "mark": {"type": "rule", "color": "#383838", "strokeWidth": 3}, "encoding": {"y2": {"field": "v2"}}},
{"data": {"name": "medians"}, "transform": [{"filter": "datum.p == 3"}], "mark": {"type": "point", "filled": true, "fill": "white", "stroke": "#383838", "strokeWidth": 0.8, "size": 10, "opacity": 1}}
]
},
{
"width": 304, "height": 296,
"encoding": {
"x": {"field": "m", "type": "nominal", "scale": {"domain": ["O","CV-1","CV-2","ZV-1","ZV-2"], "paddingInner": 0.2, "paddingOuter": 0.1}, "axis": {"title": "method"}},
"xOffset": {"field": "a", "type": "nominal", "scale": {"domain": ["ULA","MALA","RWM"], "paddingInner": 0, "paddingOuter": 0}},
"y": {"field": "v", "type": "quantitative", "scale": {"domain": [2.98645, 3.02436], "nice": false, "zero": false}, "axis": {"title": "x₄", "values": [2.990,2.995,3.000,3.005,3.010,3.015,3.020], "format": ".3f"}}
},
"layer": [
{"data": {"name": "slices"}, "transform": [{"filter": "datum.p == 4"}], "mark": {"type": "bar", "opacity": 1}, "encoding": {"y2": {"field": "v2"}, "size": {"field": "w", "type": "quantitative", "scale": {"domain": [0,1], "range": [0,16.2], "zero": true}, "legend": null}, "color": {"field": "a", "type": "nominal", "scale": {"domain": ["ULA","MALA","RWM"], "range": ["#4f74c4","#68c262","#cd5e5e"]}, "title": "algorithm"}}},
{"data": {"name": "trails"}, "transform": [{"filter": "datum.p == 4"}], "mark": {"type": "trail", "opacity": 1}, "encoding": {"size": {"field": "w", "type": "quantitative", "scale": {"domain": [0,1], "range": [0,16.2], "zero": true}, "legend": null}, "color": {"field": "a", "type": "nominal", "scale": {"domain": ["ULA","MALA","RWM"], "range": ["#4f74c4","#68c262","#cd5e5e"]}, "title": "algorithm"}, "detail": {"field": "m"}, "order": {"field": "v", "type": "quantitative"}}},
{"data": {"name": "boxes"}, "transform": [{"filter": "datum.p == 4 && datum.k == 'wh'"}], "mark": {"type": "rule", "color": "#383838", "strokeWidth": 1.1}, "encoding": {"y2": {"field": "v2"}}},
{"data": {"name": "boxes"}, "transform": [{"filter": "datum.p == 4 && datum.k == 'iqr'"}], "mark": {"type": "rule", "color": "#383838", "strokeWidth": 3}, "encoding": {"y2": {"field": "v2"}}},
{"data": {"name": "medians"}, "transform": [{"filter": "datum.p == 4"}], "mark": {"type": "point", "filled": true, "fill": "white", "stroke": "#383838", "strokeWidth": 0.8, "size": 10, "opacity": 1}}
]
}
],
"config": {
"font": "Liberation Sans",
"view": {"fill": "#EAEAF2", "stroke": null},
"axis": {"domain": false, "ticks": false, "tickSize": 0, "labelFontSize": 8.5, "labelColor": "#262626", "titleFontSize": 8.5, "titleColor": "#262626", "titleFontWeight": "normal", "labelFont": "Liberation Sans", "titleFont": "Liberation Sans"},
"axisY": {"grid": true, "gridColor": "white", "gridWidth": 1, "labelPadding": 4, "titleX": -27, "titleFontStyle": "italic"},
"axisX": {"grid": false, "labelAngle": 0, "labelPadding": 4, "titlePadding": 2},
"legend": {"orient": "top-right", "offset": 6, "padding": 0, "titleFontSize": 7.5, "labelFontSize": 7.5, "titleFontWeight": "normal", "titleColor": "#262626", "labelColor": "#262626", "titleAnchor": "middle", "titlePadding": 3, "symbolType": "M-2,-0.7H2V0.7H-2Z", "symbolSize": 64, "symbolStrokeColor": "#555555", "symbolStrokeWidth": 0.5, "symbolOpacity": 1, "rowPadding": 3, "labelOffset": 10, "labelFont": "Liberation Sans", "titleFont": "Liberation Sans"}
}
}
